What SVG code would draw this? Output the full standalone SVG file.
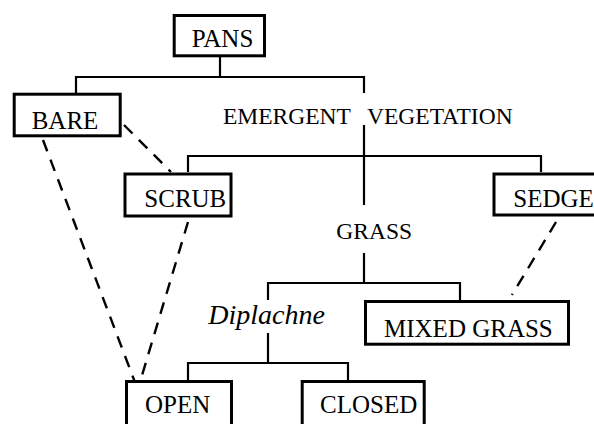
<svg xmlns="http://www.w3.org/2000/svg" width="594" height="424" viewBox="0 0 594 424">
<style>
.box{fill:#fff;stroke:#000;stroke-width:3}
.t{font-family:"Liberation Serif","Times New Roman",serif;font-size:25px;fill:#000}
.s{font-family:"Liberation Serif","Times New Roman",serif;font-size:23.5px;fill:#000}
.i{font-family:"Liberation Serif","Times New Roman",serif;font-size:28px;font-style:italic;fill:#000}
.c{fill:none;stroke:#000;stroke-width:2.2}
.d{fill:none;stroke:#000;stroke-width:2.4;stroke-dasharray:12 9}
</style>
<rect width="594" height="424" fill="#fff"/>
<g id="connectors">
<path class="c" d="M220,57V77M76,93V77H364V93M364,125V205M188,172V156H541V172M364,253V283M268,300V283H460V300M268,333V363M188,380V363H348V380"/>
<path class="d" d="M124,125L171,172"/>
<path class="d" d="M43,140L136,385"/>
<path class="d" d="M188,222L140,382"/>
<path class="d" d="M556,222L512,295"/>
</g>
<g id="pans"><rect class="box" x="174.2" y="15.5" width="90.3" height="40.3"/><text class="t" x="191.7" y="46.7">PANS</text></g>
<g id="bare"><rect class="box" x="14.2" y="94.2" width="106" height="41.6"/><text class="t" x="31.7" y="129">BARE</text></g>
<g id="emergent"><text class="s" y="124"><tspan x="223">EMERGENT</tspan><tspan x="367">VEGETATION</tspan></text></g>
<g id="scrub"><rect class="box" x="125" y="174" width="106" height="42"/><text class="t" x="144.3" y="206.7">SCRUB</text></g>
<g id="sedge"><rect class="box" x="494" y="174" width="110" height="41"/><text class="t" x="513.3" y="206.7">SEDGE</text></g>
<g id="grass"><text class="s" x="336.3" y="239">GRASS</text></g>
<g id="diplachne"><text class="i" x="208.3" y="324">Diplachne</text></g>
<g id="mixed"><rect class="box" x="365.5" y="301.5" width="203" height="42.7"/><text class="t" x="384" y="336.7">MIXED GRASS</text></g>
<g id="open"><rect class="box" x="126.5" y="381.5" width="105" height="50"/><text class="t" x="145" y="413.3">OPEN</text></g>
<g id="closed"><rect class="box" x="302.2" y="381.5" width="122" height="50"/><text class="t" x="320" y="413.3">CLOSED</text></g>
</svg>
